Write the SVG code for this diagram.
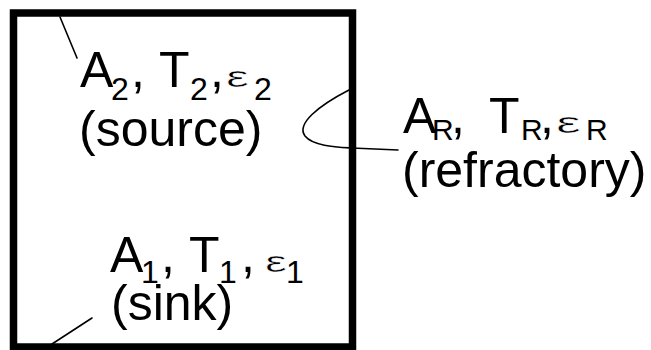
<svg xmlns="http://www.w3.org/2000/svg" width="651" height="350" viewBox="0 0 651 350">
<style>
text{font-family:"Liberation Sans",Arial,sans-serif;fill:#000;font-size:50px}
.s{font-size:32px}
.r{font-size:30px}
.e{font-size:30px;stroke:#fff;stroke-width:0.6px}
.ln{fill:none;stroke:#000;stroke-width:1.6;stroke-linecap:round}
</style>
<rect width="651" height="350" fill="#fff"/>
<g id="enclosure">
<rect x="13.5" y="13" width="339" height="334" fill="none" stroke="#000" stroke-width="7.5"/>
</g>
<g id="connectors">
<path class="ln" d="M60,17 L77,58"/>
<path class="ln" d="M52,344 L92,318"/>
<path class="ln" d="M349,90 C318,106 296,124 305,136 C313,146 336,147 352,148 L398,150"/>
</g>
<g id="source">
<text><tspan x="80" y="87">A</tspan><tspan class="s" x="111" y="100">2</tspan><tspan x="131" y="87">,</tspan><tspan x="159" y="87">T</tspan><tspan class="s" x="190" y="100">2</tspan><tspan x="210" y="87">,</tspan><tspan class="e" x="226" y="87" textLength="23" lengthAdjust="spacingAndGlyphs">ε</tspan><tspan class="s" x="254" y="100">2</tspan></text>
<text x="79" y="146">(source)</text>
</g>
<g id="refractory">
<text><tspan x="403" y="133">A</tspan><tspan class="r" x="432" y="140">R</tspan><tspan x="451" y="133">,</tspan><tspan x="489" y="133">T</tspan><tspan class="r" x="521" y="140">R</tspan><tspan x="540" y="133">,</tspan><tspan class="e" x="556" y="133" textLength="25" lengthAdjust="spacingAndGlyphs">ε</tspan><tspan class="r" x="586" y="140">R</tspan></text>
<text x="402" y="187">(refractory)</text>
</g>
<g id="sink">
<text><tspan x="110" y="272">A</tspan><tspan class="s" x="141" y="283">1</tspan><tspan x="161" y="272">,</tspan><tspan x="189" y="272">T</tspan><tspan class="s" x="219" y="283">1</tspan><tspan x="241" y="272">,</tspan><tspan class="e" x="265" y="272" textLength="22" lengthAdjust="spacingAndGlyphs">ε</tspan><tspan class="s" x="286" y="283">1</tspan></text>
<text x="111" y="320">(sink)</text>
</g>
</svg>
